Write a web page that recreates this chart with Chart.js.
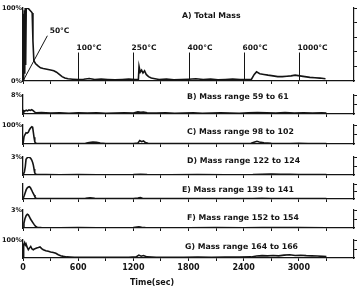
<!DOCTYPE html>
<html lang="en">
<head>
<meta charset="UTF-8">
<title>Total mass and mass ranges vs time</title>
<script src="https://cdn.jsdelivr.net/npm/chart.js"></script>
<style>
    body { margin: 0; background: #fff; }
    #wrap { position: relative; width: 361px; height: 287px; }
    #wrap canvas { position: absolute; left: 0; top: 0; }
</style>
</head>
<body>
<div id="wrap"></div>
<script>
// ---- data (time in sec, signal in % of each panel's full scale) ----
const timeA = [0, 5, 9, 14, 19, 24, 29, 35, 45, 60,
    75, 90, 100, 108, 118, 135, 160, 190, 220, 260,
    300, 335, 365, 395, 425, 455, 490, 540, 600, 660,
    720, 780, 850, 920, 1000, 1080, 1150, 1220, 1255, 1262,
    1275, 1290, 1305, 1322, 1340, 1365, 1395, 1435, 1480, 1560,
    1640, 1720, 1800, 1880, 1960, 2040, 2120, 2200, 2280, 2360,
    2440, 2485, 2515, 2540, 2575, 2620, 2665, 2720, 2770, 2820,
    2870, 2915, 2960, 3010, 3065, 3120, 3175, 3230, 3290];
const totalMass = [0, 92, 6, 97, 10, 100, 22, 99, 100, 99,
    97, 95, 93, 55, 28, 24, 21, 18, 17, 16,
    15, 14, 12, 9, 6, 4, 3, 2.5, 2, 2.5,
    3.5, 2, 2.5, 2, 1.5, 2, 2.5, 2, 2, 20,
    12, 15, 11, 14, 9, 6, 4, 3, 2, 2.5,
    1.5, 2, 2.5, 3, 2, 2.5, 1.5, 2, 2.5, 2,
    2, 2.5, 9, 12.5, 10, 9, 8, 7, 6, 6,
    6.5, 7, 8, 7, 6, 5, 4.5, 4, 3];

const timeB = [0, 8, 20, 35, 50, 65, 80, 95, 110, 125,
    140, 200, 300, 400, 500, 600, 700, 800, 900, 1000,
    1100, 1200, 1250, 1280, 1310, 1350, 1450, 1550, 1650, 1750,
    1850, 1950, 2050, 2150, 2250, 2350, 2450, 2550, 2650, 2750,
    2850, 2950, 3050, 3150, 3250, 3300];
const mass59to61 = [0, 1.4, 1.2, 1.6, 1.3, 1.7, 1.5, 1.8, 1.4, 0.9,
    0.5, 0.6, 0.4, 0.5, 0.3, 0.5, 0.4, 0.5, 0.3, 0.4,
    0.5, 0.4, 0.9, 0.7, 0.8, 0.5, 0.4, 0.5, 0.3, 0.4,
    0.5, 0.3, 0.4, 0.5, 0.4, 0.3, 0.5, 0.6, 0.5, 0.4,
    0.6, 0.4, 0.5, 0.4, 0.5, 0.4];

const timeC = [0, 11, 22, 33, 45, 58, 70, 84, 96, 105,
    113, 120, 128, 136, 150, 200, 300, 400, 500, 600,
    680, 720, 760, 800, 840, 900, 1000, 1100, 1200, 1250,
    1270, 1290, 1310, 1330, 1360, 1400, 1500, 1600, 1700, 1800,
    1900, 2000, 2100, 2200, 2300, 2400, 2480, 2520, 2545, 2570,
    2620, 2700, 2800, 2900, 3000, 3100, 3200, 3300];
const mass98to102 = [0, 38, 50, 59, 57, 62, 75, 85, 91, 88,
    60, 35, 12, 5, 4, 3, 3, 2.5, 3, 3,
    4, 8, 10, 9, 5, 3, 2.5, 3, 3, 5,
    18, 12, 16, 8, 4, 3, 2.5, 3, 2.5, 3,
    3, 2.5, 3, 2.5, 3, 3, 4, 10, 14, 11,
    6, 4, 3, 3, 3.5, 3, 3, 3];

const timeD = [0, 15, 25, 33, 45, 55, 65, 75, 85, 95,
    105, 113, 120, 127, 135, 150, 250, 400, 600, 800,
    1000, 1200, 1280, 1350, 1600, 1900, 2200, 2500, 2600, 2700,
    2800, 2900, 3000, 3150, 3300];
const mass122to124 = [0, 0.5, 1.4, 2.6, 2.85, 2.95, 3.0, 2.9, 2.75, 2.5,
    2.1, 1.6, 1.0, 0.4, 0.15, 0.08, 0.06, 0.05, 0.06, 0.05,
    0.05, 0.06, 0.1, 0.06, 0.05, 0.06, 0.05, 0.06, 0.1, 0.14,
    0.12, 0.1, 0.08, 0.07, 0.06];

const timeE = [0, 12, 22, 35, 47, 58, 69, 80, 94, 107,
    120, 130, 141, 160, 250, 400, 550, 680, 730, 780,
    900, 1050, 1200, 1250, 1275, 1300, 1350, 1500, 1700, 1900,
    2100, 2300, 2500, 2600, 2700, 2900, 3100, 3300];
const mass139to141 = [0, 20, 38, 62, 75, 80, 82, 76, 60, 42,
    27, 14, 5, 3, 3, 2.5, 3, 4, 8, 4,
    3, 2.5, 3, 6, 9, 5, 3, 2.5, 3, 2.5,
    3, 3, 3.5, 4, 3.5, 3, 3, 3];

const timeF = [0, 10, 22, 35, 47, 58, 69, 82, 94, 107,
    120, 135, 156, 200, 400, 600, 800, 1000, 1200, 1260,
    1290, 1330, 1500, 1800, 2100, 2400, 2600, 2800, 3000, 3300];
const mass152to154 = [0, 0.8, 1.6, 2.1, 2.3, 2.2, 1.9, 1.5, 1.2, 0.9,
    0.6, 0.3, 0.08, 0.06, 0.05, 0.06, 0.05, 0.05, 0.06, 0.2,
    0.12, 0.06, 0.05, 0.05, 0.06, 0.05, 0.06, 0.07, 0.06, 0.05];

const timeG = [0, 4, 10, 18, 26, 33, 45, 58, 70, 84,
    98, 112, 130, 149, 167, 185, 203, 221, 248, 275,
    300, 330, 357, 384, 410, 438, 475, 511, 560, 650,
    750, 850, 950, 1050, 1150, 1230, 1260, 1285, 1310, 1350,
    1450, 1600, 1750, 1900, 2050, 2200, 2350, 2480, 2540, 2600,
    2660, 2720, 2780, 2840, 2900, 2960, 3020, 3080, 3140, 3200,
    3260, 3300];
const mass164to166 = [0, 80, 70, 85, 72, 78, 60, 46, 55, 64,
    50, 46, 52, 56, 58, 61, 52, 46, 40, 37,
    33, 31, 26, 18, 13, 9, 6, 5, 4, 4,
    3.5, 4, 3.5, 4, 4, 6, 16, 10, 14, 6,
    4, 4.5, 4, 5, 4.5, 5, 5.5, 6, 11, 13,
    12, 14, 12, 16, 18, 14, 15, 13, 12, 11,
    9, 8];

// temperature marks on the total mass trace
const markerTimes = [600, 1200, 1800, 2400, 3000];
const markerTemps = ['100°C', '250°C', '400°C', '600°C', '1000°C'];
const startTemp = '50°C';
const timeTickLabels = [0, 600, 1200, 1800, 2400, 3000];

// ---- layout ----
const W = 361, H = 287;
const INK = '#141414';
const FONT = '"DejaVu Sans", sans-serif';
const LEFT = 23;   // left axis position

const panels = [
    { t: timeA, v: totalMass, title: 'A) Total Mass', top: 8, bottom: 81, max: 100, topLabel: '100%', zeroLabel: '0%', tx: 182, ty: 16, rStep: 20, markers: true },
    { t: timeB, v: mass59to61, title: 'B) Mass range 59 to 61', top: 95, bottom: 114, max: 8, topLabel: '8%', tx: 187, ty: 97, rStep: 4 },
    { t: timeC, v: mass98to102, title: 'C) Mass range 98 to 102', top: 125, bottom: 144, max: 100, topLabel: '100%', tx: 187, ty: 132, rStep: 50 },
    { t: timeD, v: mass122to124, title: 'D) Mass range 122 to 124', top: 157, bottom: 175, max: 3, topLabel: '3%', tx: 187, ty: 161, rStep: 1.5 },
    { t: timeE, v: mass139to141, title: 'E) Mass range 139 to 141', top: 184, bottom: 199, max: 100, topLabel: '', tx: 182, ty: 190, rStep: 50 },
    { t: timeF, v: mass152to154, title: 'F) Mass range 152 to 154', top: 210, bottom: 228, max: 3, topLabel: '3%', tx: 187, ty: 218, rStep: 1.5 },
    { t: timeG, v: mass164to166, title: 'G) Mass range 164 to 166', top: 240, bottom: 258, max: 100, topLabel: '100%', tx: 185, ty: 247, rStep: 50, last: true }
];

const wrap = document.getElementById('wrap');

function notesPlugin(p) {
    return {
        id: 'notes',
        afterDraw(chart) {
            const { ctx } = chart;
            const x = chart.scales.x, y = chart.scales.y;
            ctx.save();
            ctx.fillStyle = INK;
            ctx.strokeStyle = INK;
            ctx.textBaseline = 'middle';
            ctx.font = 'bold 7.8px ' + FONT;
            ctx.fillText(p.title, p.tx, p.ty);

            if (p.markers) {
                ctx.lineWidth = 1;
                ctx.font = 'bold 7.5px ' + FONT;
                markerTimes.forEach((t, i) => {
                    const px = Math.round(x.getPixelForValue(t)) + 0.5;
                    ctx.beginPath();
                    ctx.moveTo(px, y.getPixelForValue(39));
                    ctx.lineTo(px, y.getPixelForValue(0));
                    ctx.stroke();
                    ctx.fillText(markerTemps[i], px - 2, y.getPixelForValue(45));
                });
                ctx.beginPath();
                ctx.moveTo(x.getPixelForValue(0), y.getPixelForValue(0));
                ctx.lineTo(x.getPixelForValue(265), y.getPixelForValue(62));
                ctx.stroke();
                ctx.fillText(startTemp, x.getPixelForValue(290), y.getPixelForValue(69));
            }

            if (p.last) {
                ctx.font = 'bold 8px ' + FONT;
                ctx.textAlign = 'center';
                ctx.fillText('Time(sec)', 152, 283);
            }
            ctx.restore();
        }
    };
}

function makePanel(p) {
    const canvas = document.createElement('canvas');
    canvas.width = W;
    canvas.height = H;
    wrap.appendChild(canvas);

    const points = p.t.map((t, i) => ({ x: t, y: p.v[i] }));
    const xHeight = p.last ? H - p.bottom : 0;

    new Chart(canvas, {
        type: 'line',
        data: {
            datasets: [{
                data: points,
                borderColor: INK,
                borderWidth: 1.6,
                pointRadius: 0,
                tension: 0,
                fill: false
            }]
        },
        options: {
            responsive: false,
            animation: false,
            devicePixelRatio: 1,
            events: [],
            layout: { padding: { left: 0, right: W - 354, top: p.top, bottom: H - p.bottom - xHeight } },
            plugins: { legend: { display: false }, tooltip: { enabled: false } },
            scales: {
                x: {
                    type: 'linear',
                    min: 0,
                    max: 3600,
                    afterFit: s => { s.height = xHeight; },
                    border: { display: true, color: INK, width: 1.3 },
                    grid: {
                        drawOnChartArea: false,
                        drawTicks: true,
                        tickLength: 3,
                        lineWidth: 1,
                        color: c => (c.tick && c.tick.value > 3300) ? 'rgba(0,0,0,0)' : INK
                    },
                    ticks: {
                        display: !!p.last,
                        stepSize: 300,
                        autoSkip: false,
                        maxRotation: 0,
                        padding: 2,
                        color: INK,
                        font: { family: FONT, size: 8, weight: 'bold' },
                        callback: v => timeTickLabels.includes(v) ? String(v) : ''
                    }
                },
                y: {
                    min: 0,
                    max: p.max,
                    afterFit: s => { s.width = LEFT; },
                    border: { display: true, color: INK, width: 1.3 },
                    grid: { drawOnChartArea: false, drawTicks: false },
                    ticks: {
                        stepSize: p.max,
                        autoSkip: false,
                        padding: 1,
                        color: INK,
                        font: { family: FONT, size: 6.5, weight: 'bold' },
                        callback: v => v === p.max ? p.topLabel : (v === 0 ? (p.zeroLabel || '') : '')
                    }
                },
                y2: {
                    position: 'right',
                    min: 0,
                    max: p.max,
                    afterFit: s => { s.width = 0; },
                    border: { display: true, color: INK, width: 1.2 },
                    grid: {
                        drawOnChartArea: false,
                        drawTicks: true,
                        tickLength: 3,
                        color: c => (c.tick && c.tick.value === 0) ? 'rgba(0,0,0,0)' : INK
                    },
                    ticks: { display: false, stepSize: p.rStep }
                }
            }
        },
        plugins: [notesPlugin(p)]
    });
}

panels.forEach(makePanel);
</script>
</body>
</html>
